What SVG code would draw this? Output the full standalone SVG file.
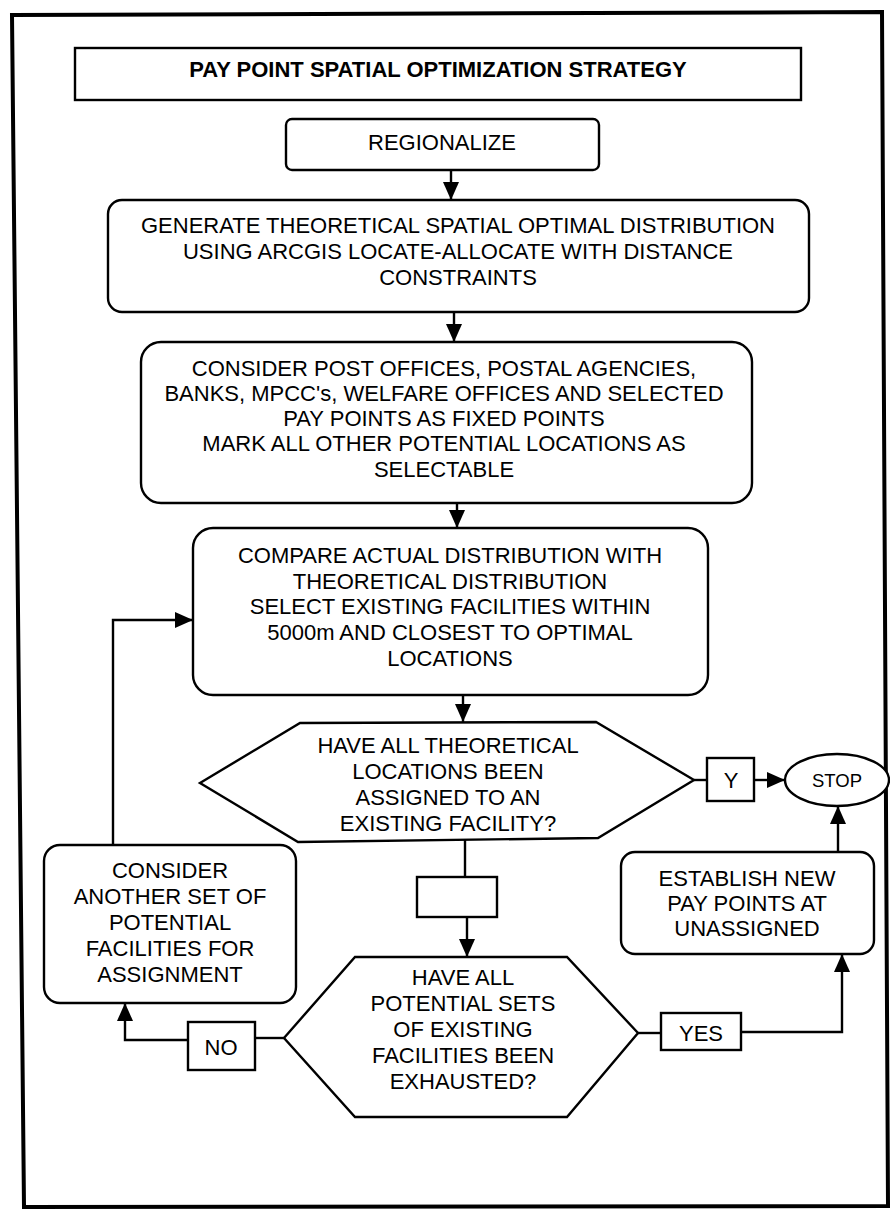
<svg xmlns="http://www.w3.org/2000/svg" width="890" height="1211" viewBox="0 0 890 1211">
<defs>
<style>
.n{fill:#fff;stroke:#000;stroke-width:2.4}
.t{font-family:"Liberation Sans",Arial,sans-serif;font-size:22px;fill:#000;text-anchor:middle}
.b{font-weight:bold}
.c{fill:none;stroke:#000;stroke-width:2.4}
</style>
<marker id="ah" markerUnits="userSpaceOnUse" markerWidth="18" markerHeight="16" refX="18" refY="8" orient="auto">
<path d="M0,0 L18,8 L0,16 Z" fill="#000"/>
</marker>
</defs>
<rect x="0" y="0" width="890" height="1211" fill="#fff"/>
<polygon points="12,15 882,12 888,1206 24,1207" fill="none" stroke="#000" stroke-width="4"/>

<g id="title">
<rect class="n" x="75" y="48" width="726" height="52"/>
<text class="t b" x="438" y="77">PAY POINT SPATIAL OPTIMIZATION STRATEGY</text>
</g>
<g id="regionalize">
<rect class="n" x="286" y="119" width="313" height="51" rx="6"/>
<text class="t" x="442" y="150">REGIONALIZE</text>
</g>
<g id="generate">
<rect class="n" x="108" y="200" width="701" height="112" rx="14"/>
<text class="t" x="458" y="233">GENERATE THEORETICAL SPATIAL OPTIMAL DISTRIBUTION</text>
<text class="t" x="458" y="259">USING ARCGIS LOCATE-ALLOCATE WITH DISTANCE</text>
<text class="t" x="458" y="285">CONSTRAINTS</text>
</g>
<g id="consider">
<rect class="n" x="141" y="342" width="611" height="161" rx="20"/>
<text class="t" x="444" y="376">CONSIDER POST OFFICES, POSTAL AGENCIES,</text>
<text class="t" x="444" y="401">BANKS, MPCC's, WELFARE OFFICES AND SELECTED</text>
<text class="t" x="444" y="426">PAY POINTS AS FIXED POINTS</text>
<text class="t" x="444" y="451">MARK ALL OTHER POTENTIAL LOCATIONS AS</text>
<text class="t" x="444" y="477">SELECTABLE</text>
</g>
<g id="compare">
<rect class="n" x="193" y="528" width="515" height="167" rx="20"/>
<text class="t" x="450" y="563">COMPARE ACTUAL DISTRIBUTION WITH</text>
<text class="t" x="450" y="589">THEORETICAL DISTRIBUTION</text>
<text class="t" x="450" y="614">SELECT EXISTING FACILITIES WITHIN</text>
<text class="t" x="450" y="640">5000m AND CLOSEST TO OPTIMAL</text>
<text class="t" x="450" y="666">LOCATIONS</text>
</g>
<g id="decision1">
<polygon class="n" points="200,783 300,723 596,722 694,780 598,838 298,842"/>
<text class="t" x="448" y="753">HAVE ALL THEORETICAL</text>
<text class="t" x="448" y="779">LOCATIONS BEEN</text>
<text class="t" x="448" y="805">ASSIGNED TO AN</text>
<text class="t" x="448" y="831">EXISTING FACILITY?</text>
</g>
<g id="y-label">
<rect class="n" x="707" y="758" width="47" height="43"/>
<text class="t" x="731" y="788">Y</text>
</g>
<g id="stop">
<ellipse class="n" cx="837" cy="780" rx="52" ry="26"/>
<text class="t" style="font-size:18.5px" x="837" y="787">STOP</text>
</g>
<g id="consider-another">
<rect class="n" x="44" y="845" width="252" height="158" rx="16"/>
<text class="t" x="170" y="878">CONSIDER</text>
<text class="t" x="170" y="904">ANOTHER SET OF</text>
<text class="t" x="170" y="930">POTENTIAL</text>
<text class="t" x="170" y="956">FACILITIES FOR</text>
<text class="t" x="170" y="982">ASSIGNMENT</text>
</g>
<g id="blank">
<rect class="n" x="417" y="877" width="80" height="40"/>
</g>
<g id="establish">
<rect class="n" x="621" y="852" width="253" height="102" rx="14"/>
<text class="t" x="747" y="886">ESTABLISH NEW</text>
<text class="t" x="747" y="911">PAY POINTS AT</text>
<text class="t" x="747" y="936">UNASSIGNED</text>
</g>
<g id="decision2">
<polygon class="n" points="284,1038 355,957 567,957 638,1033 567,1117 355,1117"/>
<text class="t" x="463" y="985">HAVE ALL</text>
<text class="t" x="463" y="1011">POTENTIAL SETS</text>
<text class="t" x="463" y="1037">OF EXISTING</text>
<text class="t" x="463" y="1063">FACILITIES BEEN</text>
<text class="t" x="463" y="1089">EXHAUSTED?</text>
</g>
<g id="no-label">
<rect class="n" x="188" y="1022" width="67" height="48"/>
<text class="t" x="221" y="1055">NO</text>
</g>
<g id="yes-label">
<rect class="n" x="661" y="1013" width="80" height="37"/>
<text class="t" x="701" y="1041">YES</text>
</g>

<g id="connectors">
<path class="c" d="M451,170 V200" marker-end="url(#ah)"/>
<path class="c" d="M454,312 V342" marker-end="url(#ah)"/>
<path class="c" d="M457,503 V528" marker-end="url(#ah)"/>
<path class="c" d="M463,695 V722" marker-end="url(#ah)"/>
<path class="c" d="M465,840 V877"/>
<path class="c" d="M467,917 V957" marker-end="url(#ah)"/>
<path class="c" d="M694,780 H707"/>
<path class="c" d="M754,780 H785" marker-end="url(#ah)"/>
<path class="c" d="M284,1038 H255"/>
<path class="c" d="M188,1040 H125 V1003" marker-end="url(#ah)"/>
<path class="c" d="M113,845 V620 H193" marker-end="url(#ah)"/>
<path class="c" d="M638,1033 H661"/>
<path class="c" d="M741,1032 H842 V954" marker-end="url(#ah)"/>
<path class="c" d="M838,852 V806" marker-end="url(#ah)"/>
</g>
</svg>
